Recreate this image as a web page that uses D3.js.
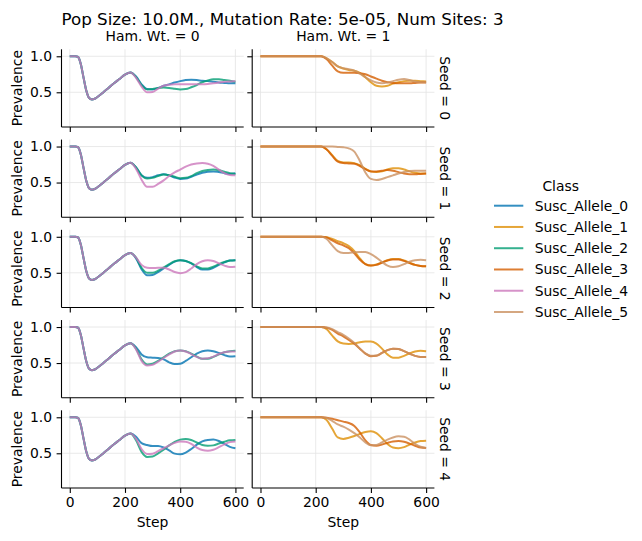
<!DOCTYPE html>
<html>
<head>
<meta charset="utf-8">
<script src="https://cdn.jsdelivr.net/npm/d3@7"></script>
<style>
  body { margin: 0; background: #fff; }
  text { font-family: "DejaVu Sans", sans-serif; font-size: 13.9px; fill: #000; }
</style>
</head>
<body>
<svg id="chart"></svg>
<script>
// Classes and facets
const classNames = ["Susc_Allele_0", "Susc_Allele_1", "Susc_Allele_2", "Susc_Allele_3", "Susc_Allele_4", "Susc_Allele_5"];
const hamWeightOf = [0, 1, 0, 1, 0, 1];
const hamWeights = [0, 1];
const seeds = [0, 1, 2, 3, 4];
const xTicks = [0, 200, 400, 600];
const yTicks = [0.5, 1.0];

// Steps shared by every series
const headSteps = [0, 10, 20, 30, 40, 50, 60, 70, 80, 90, 100, 120, 140, 160, 180, 200, 220];
const tailSteps = [240, 260, 280, 300, 320, 340, 360, 380, 400, 420, 440, 460, 480, 500, 520, 540, 560, 580, 600];

// Early part: Ham. Wt. 0 alleles all follow the same curve, Ham. Wt. 1 stay at 1
const leftHead = [1.0, 1.0, 1.0, 0.99, 0.89, 0.70, 0.52, 0.42, 0.40, 0.41, 0.435, 0.495, 0.56, 0.625, 0.685, 0.745, 0.775];
const rightHead = [1.0, 1.0, 1.0, 1.0, 1.0, 1.0, 1.0, 1.0, 1.0, 1.0, 1.0, 1.0, 1.0, 1.0, 1.0, 1.0, 1.0];

// Tails (steps 240..600), one list per allele
const seed0Tails = [
  [0.72, 0.61, 0.545, 0.54, 0.56, 0.59, 0.61, 0.635, 0.655, 0.67, 0.675, 0.67, 0.66, 0.655, 0.645, 0.635, 0.63, 0.625, 0.625],
  [0.97, 0.92, 0.86, 0.83, 0.81, 0.80, 0.77, 0.71, 0.64, 0.59, 0.58, 0.59, 0.62, 0.64, 0.655, 0.66, 0.66, 0.655, 0.65],
  [0.71, 0.60, 0.54, 0.545, 0.56, 0.565, 0.56, 0.55, 0.54, 0.545, 0.57, 0.60, 0.64, 0.665, 0.68, 0.68, 0.67, 0.66, 0.645],
  [0.96, 0.87, 0.79, 0.77, 0.77, 0.77, 0.765, 0.75, 0.72, 0.69, 0.66, 0.64, 0.63, 0.625, 0.625, 0.625, 0.63, 0.635, 0.635],
  [0.70, 0.58, 0.50, 0.505, 0.55, 0.59, 0.605, 0.61, 0.61, 0.61, 0.61, 0.61, 0.61, 0.615, 0.625, 0.635, 0.645, 0.65, 0.655],
  [0.97, 0.92, 0.86, 0.835, 0.82, 0.80, 0.76, 0.71, 0.665, 0.635, 0.625, 0.635, 0.655, 0.675, 0.685, 0.67, 0.65, 0.64, 0.64]
];
const seed1Tails = [
  [0.71, 0.60, 0.565, 0.575, 0.60, 0.615, 0.60, 0.57, 0.55, 0.555, 0.58, 0.61, 0.635, 0.65, 0.655, 0.645, 0.63, 0.62, 0.63],
  [0.96, 0.88, 0.80, 0.78, 0.78, 0.77, 0.74, 0.69, 0.655, 0.645, 0.655, 0.68, 0.70, 0.70, 0.68, 0.655, 0.635, 0.625, 0.625],
  [0.71, 0.60, 0.555, 0.565, 0.59, 0.61, 0.60, 0.58, 0.56, 0.565, 0.59, 0.63, 0.66, 0.675, 0.68, 0.67, 0.65, 0.63, 0.62],
  [0.96, 0.87, 0.79, 0.77, 0.765, 0.76, 0.73, 0.685, 0.655, 0.655, 0.665, 0.675, 0.665, 0.645, 0.625, 0.615, 0.615, 0.62, 0.625],
  [0.69, 0.54, 0.44, 0.44, 0.48, 0.53, 0.59, 0.64, 0.68, 0.72, 0.75, 0.765, 0.77, 0.76, 0.73, 0.68, 0.63, 0.605, 0.60],
  [1.0, 1.0, 0.995, 0.99, 0.975, 0.93, 0.80, 0.64, 0.55, 0.535, 0.55, 0.575, 0.60, 0.625, 0.645, 0.66, 0.665, 0.665, 0.665]
];
const seed2Tails = [
  [0.70, 0.55, 0.465, 0.47, 0.51, 0.56, 0.61, 0.655, 0.675, 0.665, 0.63, 0.58, 0.545, 0.545, 0.57, 0.61, 0.645, 0.67, 0.675],
  [0.995, 0.97, 0.94, 0.91, 0.87, 0.80, 0.70, 0.62, 0.60, 0.615, 0.645, 0.675, 0.69, 0.69, 0.67, 0.64, 0.61, 0.595, 0.59],
  [0.71, 0.57, 0.50, 0.50, 0.53, 0.575, 0.62, 0.66, 0.675, 0.665, 0.635, 0.59, 0.56, 0.56, 0.585, 0.62, 0.65, 0.67, 0.675],
  [0.99, 0.95, 0.91, 0.88, 0.84, 0.77, 0.68, 0.62, 0.60, 0.61, 0.64, 0.67, 0.685, 0.685, 0.665, 0.635, 0.61, 0.595, 0.59],
  [0.71, 0.61, 0.57, 0.565, 0.57, 0.57, 0.545, 0.51, 0.495, 0.51, 0.56, 0.62, 0.66, 0.675, 0.665, 0.63, 0.60, 0.58, 0.585],
  [0.97, 0.88, 0.80, 0.775, 0.775, 0.785, 0.79, 0.79, 0.76, 0.71, 0.65, 0.60, 0.58, 0.59, 0.62, 0.655, 0.675, 0.68, 0.675]
];
const seed3Tails = [
  [0.72, 0.62, 0.58, 0.575, 0.57, 0.55, 0.51, 0.485, 0.49, 0.53, 0.58, 0.63, 0.665, 0.675, 0.665, 0.64, 0.61, 0.59, 0.595],
  [0.97, 0.88, 0.80, 0.77, 0.765, 0.77, 0.79, 0.80, 0.80, 0.77, 0.70, 0.62, 0.575, 0.575, 0.60, 0.635, 0.66, 0.67, 0.665],
  [0.70, 0.55, 0.48, 0.49, 0.53, 0.58, 0.63, 0.665, 0.675, 0.665, 0.63, 0.59, 0.56, 0.56, 0.585, 0.62, 0.65, 0.665, 0.67],
  [0.99, 0.96, 0.91, 0.87, 0.82, 0.77, 0.70, 0.63, 0.595, 0.60, 0.64, 0.68, 0.70, 0.695, 0.665, 0.63, 0.60, 0.585, 0.585],
  [0.69, 0.53, 0.465, 0.475, 0.52, 0.57, 0.62, 0.66, 0.675, 0.66, 0.625, 0.585, 0.56, 0.565, 0.59, 0.625, 0.65, 0.66, 0.66],
  [0.995, 0.97, 0.93, 0.89, 0.84, 0.78, 0.70, 0.635, 0.60, 0.605, 0.64, 0.68, 0.70, 0.695, 0.665, 0.63, 0.60, 0.585, 0.585]
];
const seed4Tails = [
  [0.73, 0.64, 0.615, 0.60, 0.60, 0.58, 0.54, 0.495, 0.485, 0.51, 0.56, 0.62, 0.665, 0.685, 0.69, 0.67, 0.63, 0.59, 0.57],
  [0.96, 0.84, 0.72, 0.70, 0.715, 0.74, 0.77, 0.795, 0.805, 0.78, 0.71, 0.63, 0.58, 0.57, 0.585, 0.62, 0.65, 0.67, 0.675],
  [0.68, 0.52, 0.45, 0.455, 0.50, 0.55, 0.61, 0.66, 0.69, 0.70, 0.685, 0.65, 0.615, 0.605, 0.61, 0.635, 0.66, 0.68, 0.685],
  [0.995, 0.98, 0.96, 0.94, 0.92, 0.88, 0.79, 0.68, 0.615, 0.605, 0.62, 0.645, 0.665, 0.67, 0.66, 0.635, 0.605, 0.58, 0.575],
  [0.70, 0.56, 0.49, 0.495, 0.53, 0.57, 0.61, 0.645, 0.665, 0.66, 0.63, 0.58, 0.545, 0.535, 0.55, 0.585, 0.625, 0.655, 0.665],
  [0.99, 0.95, 0.90, 0.87, 0.83, 0.78, 0.72, 0.65, 0.61, 0.615, 0.65, 0.69, 0.72, 0.735, 0.73, 0.69, 0.63, 0.59, 0.575]
];
const tailsBySeed = [seed0Tails, seed1Tails, seed2Tails, seed3Tails, seed4Tails];

const colors = ["#0173b2", "#de8f05", "#029e73", "#d55e00", "#cc78bc", "#ca9161"];

// Layout
const W = 642, H = 541;
const colLeft = [61.5, 252.2];
const panelW = 182.2;
const rowTop0 = 49.3, rowPitch = 90.25, panelH = 77.7;

const svg = d3.select("#chart").attr("width", W).attr("height", H);

const steps = headSteps.concat(tailSteps);

seeds.forEach((seed, r) => {
  hamWeights.forEach((hw, c) => {
    const left = colLeft[c], top = rowTop0 + r * rowPitch;
    const x = d3.scaleLinear().domain([-30, 630]).range([left, left + panelW]);
    const y = d3.scaleLinear().domain([0.018, 1.097]).range([top + panelH, top]);
    const g = svg.append("g");

    // grid
    g.selectAll(".gx").data(xTicks).join("line")
      .attr("x1", d => x(d)).attr("x2", d => x(d))
      .attr("y1", top).attr("y2", top + panelH)
      .attr("stroke", "#e3e3e3").attr("stroke-width", 0.8);
    g.selectAll(".gy").data(yTicks).join("line")
      .attr("x1", left).attr("x2", left + panelW)
      .attr("y1", d => y(d)).attr("y2", d => y(d))
      .attr("stroke", "#e3e3e3").attr("stroke-width", 0.8);

    // lines
    const line = d3.line().x(d => x(d[0])).y(d => y(d[1])).curve(d3.curveMonotoneX);
    classNames.forEach((name, i) => {
      if (hamWeightOf[i] !== hw) return;
      const head = hw === 0 ? leftHead : rightHead;
      const vals = head.concat(tailsBySeed[r][i]);
      const pts = steps.map((s, k) => [s, vals[k]]);
      g.append("path").datum(pts)
        .attr("d", line)
        .attr("fill", "none")
        .attr("stroke", colors[i])
        .attr("stroke-width", 2)
        .attr("stroke-opacity", 0.8);
    });

    // axes
    const isBottom = r === seeds.length - 1;
    const xAxis = d3.axisBottom(x).tickValues(xTicks).tickSize(4.9).tickSizeOuter(0).tickPadding(4)
      .tickFormat(isBottom ? d3.format("d") : "");
    const yAxis = d3.axisLeft(y).tickValues(yTicks).tickSize(4.9).tickSizeOuter(0).tickPadding(4.5)
      .tickFormat(c === 0 ? d3.format(".1f") : "");
    const gx = g.append("g").attr("transform", `translate(0,${top + panelH})`).call(xAxis);
    const gy = g.append("g").attr("transform", `translate(${left},0)`).call(yAxis);
    [gx, gy].forEach(a => {
      a.selectAll("path").attr("d", null);
      a.selectAll("line").attr("stroke", "#000").attr("stroke-width", 1.1);
      a.selectAll("text").style("font-size", "13.9px").style("font-family", "DejaVu Sans").attr("fill", "#000");
    });
    // spines
    g.append("line").attr("x1", left).attr("x2", left).attr("y1", top).attr("y2", top + panelH)
      .attr("stroke", "#000").attr("stroke-width", 1.1);
    g.append("line").attr("x1", left).attr("x2", left + panelW).attr("y1", top + panelH).attr("y2", top + panelH)
      .attr("stroke", "#000").attr("stroke-width", 1.1);

    if (r === 0) {
      g.append("text").attr("x", left + panelW / 2).attr("y", top - 8)
        .attr("text-anchor", "middle").text(`Ham. Wt. = ${hw}`);
    }
    if (c === 0) {
      g.append("text").attr("transform", `translate(21.7,${top + panelH / 2}) rotate(-90)`)
        .attr("text-anchor", "middle").text("Prevalence");
    }
    if (c === 1) {
      g.append("text").attr("transform", `translate(440,${top + panelH / 2}) rotate(90)`)
        .attr("text-anchor", "middle").text(`Seed = ${seed}`);
    }
    if (isBottom) {
      g.append("text").attr("x", left + panelW / 2).attr("y", 527)
        .attr("text-anchor", "middle").text("Step");
    }
  });
});

// title
svg.append("text").attr("x", 61.5).attr("y", 25).attr("text-anchor", "start")
  .style("font-size", "16.7px")
  .text("Pop Size: 10.0M., Mutation Rate: 5e-05, Num Sites: 3");

// legend
const legend = svg.append("g");
legend.append("text").attr("x", 560.7).attr("y", 190.7).attr("text-anchor", "middle").text("Class");
const legendY = d3.scaleLinear().domain([0, classNames.length - 1]).range([205.7, 312]);
classNames.forEach((name, i) => {
  legend.append("line").attr("x1", 494).attr("x2", 523.3)
    .attr("y1", legendY(i)).attr("y2", legendY(i))
    .attr("stroke", colors[i]).attr("stroke-width", 2).attr("stroke-opacity", 0.8);
  legend.append("text").attr("x", 534.7).attr("y", legendY(i)).attr("dy", "0.36em").text(name);
});
</script>
</body>
</html>
